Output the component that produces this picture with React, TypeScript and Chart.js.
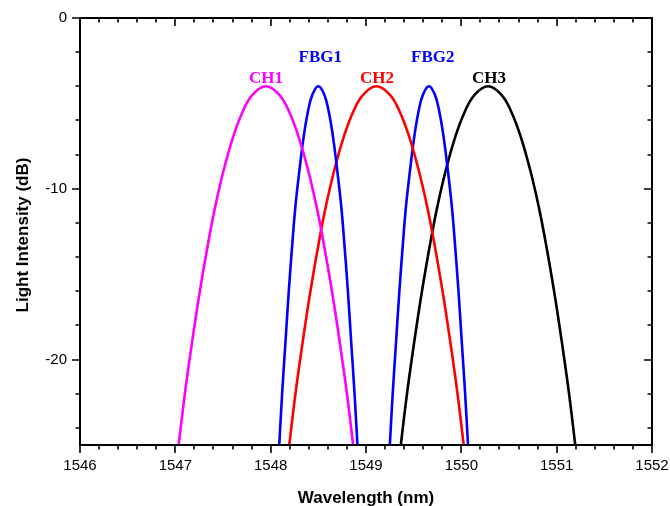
import React, { useEffect, useRef } from "react";
import { Chart, registerables } from "chart.js";
Chart.register(...registerables);

// ---- data ----
const dbLevels = [-25, -22, -19, -16, -13, -11, -9, -7, -5.5, -4.5, -4, -4.5, -5.5, -7, -9, -11, -13, -16, -19, -22, -25];

const ch1Wl = [1547.035, 1547.10, 1547.175, 1547.257, 1547.35, 1547.42, 1547.503, 1547.604, 1547.705, 1547.809, 1547.95, 1548.091, 1548.195, 1548.296, 1548.397, 1548.48, 1548.55, 1548.643, 1548.725, 1548.80, 1548.865];
const fbg1Wl = [1548.09, 1548.12, 1548.155, 1548.19, 1548.23, 1548.26, 1548.30, 1548.345, 1548.39, 1548.437, 1548.50, 1548.563, 1548.61, 1548.655, 1548.70, 1548.74, 1548.77, 1548.81, 1548.845, 1548.88, 1548.91];
const ch2Wl = [1548.195, 1548.26, 1548.335, 1548.417, 1548.51, 1548.58, 1548.663, 1548.764, 1548.865, 1548.969, 1549.11, 1549.251, 1549.355, 1549.456, 1549.557, 1549.64, 1549.71, 1549.803, 1549.885, 1549.96, 1550.025];
const fbg2Wl = [1549.25, 1549.28, 1549.315, 1549.35, 1549.39, 1549.42, 1549.46, 1549.505, 1549.55, 1549.597, 1549.66, 1549.723, 1549.77, 1549.815, 1549.86, 1549.90, 1549.93, 1549.97, 1550.005, 1550.04, 1550.07];
const ch3Wl = [1549.365, 1549.43, 1549.505, 1549.587, 1549.68, 1549.75, 1549.833, 1549.934, 1550.035, 1550.139, 1550.28, 1550.421, 1550.525, 1550.626, 1550.727, 1550.81, 1550.88, 1550.973, 1551.055, 1551.13, 1551.195];

const seriesNames = ["CH1", "FBG1", "CH2", "FBG2", "CH3"];
const seriesWl = [ch1Wl, fbg1Wl, ch2Wl, fbg2Wl, ch3Wl];
const seriesColors = ["#FF00FF", "#0000FF", "#FF0000", "#0000FF", "#000000"];

const labelX = [1547.95, 1548.52, 1549.115, 1549.70, 1550.29];
const labelY = [-3.81, -2.56, -3.81, -2.56, -3.81];

const xTickValues = [1546, 1547, 1548, 1549, 1550, 1551, 1552];
const yTickValues = [-20, -10, 0];
const xMin = 1546, xMax = 1552, xMinorStep = 0.2, xMajorStep = 1;
const yMin = -25, yMax = 0, yMinorStep = 2, yMajorStep = 10;

const xTitle = "Wavelength (nm)";
const yTitle = "Light Intensity (dB)";

const framePlugin = {
  id: "frameAndLabels",
  afterDatasetsDraw(chart: any) {
    const { ctx, chartArea: a, scales } = chart;
    const xs = scales.x, ys = scales.y;
    ctx.save();
    ctx.strokeStyle = "#000";
    ctx.lineCap = "butt";
    // ticks
    ctx.lineWidth = 1.6;
    const majLen = 8, minLen = 4.5;
    const nx = Math.round((xMax - xMin) / xMinorStep);
    for (let i = 0; i <= nx; i++) {
      const v = xMin + i * xMinorStep;
      const isMaj = Math.abs(v / xMajorStep - Math.round(v / xMajorStep)) < 1e-6;
      const len = isMaj ? majLen : minLen;
      const px = Math.round(xs.getPixelForValue(v));
      ctx.beginPath();
      ctx.moveTo(px, a.bottom);
      ctx.lineTo(px, a.bottom + len);
      ctx.moveTo(px, a.top);
      ctx.lineTo(px, a.top + len);
      ctx.stroke();
    }
    const ny = Math.round((yMax - yMin) / yMinorStep);
    for (let i = 0; i <= ny; i++) {
      const v = yMax - i * yMinorStep;
      if (v < yMin - 1e-6) break;
      const isMaj = Math.abs(v / yMajorStep - Math.round(v / yMajorStep)) < 1e-6;
      const len = isMaj ? majLen : minLen;
      const py = Math.round(ys.getPixelForValue(v));
      ctx.beginPath();
      ctx.moveTo(a.left - len, py);
      ctx.lineTo(a.left, py);
      ctx.moveTo(a.right - len, py);
      ctx.lineTo(a.right, py);
      ctx.stroke();
    }
    // frame
    ctx.lineWidth = 2;
    ctx.strokeRect(a.left, a.top, a.right - a.left, a.bottom - a.top);

    // curve labels
    ctx.font = "bold 17px 'Liberation Serif', 'Times New Roman', serif";
    ctx.textAlign = "center";
    ctx.textBaseline = "alphabetic";
    seriesNames.forEach((n, i) => {
      ctx.fillStyle = seriesColors[i];
      ctx.fillText(n, xs.getPixelForValue(labelX[i]), ys.getPixelForValue(labelY[i]));
    });

    // axis titles
    ctx.fillStyle = "#000";
    ctx.font = "bold 17px 'Liberation Sans', Arial, sans-serif";
    ctx.textAlign = "center";
    ctx.textBaseline = "alphabetic";
    ctx.fillText(xTitle, (a.left + a.right) / 2, 503);
    ctx.translate(28, 235);
    ctx.rotate(-Math.PI / 2);
    ctx.fillText(yTitle, 0, 0);
    ctx.restore();
  },
};

export default function App() {
  const ref = useRef<HTMLCanvasElement>(null);
  useEffect(() => {
    document.body.style.margin = "0";
    const canvas = ref.current!;
    const chart = new Chart(canvas, {
      type: "line",
      data: {
        datasets: seriesNames.map((n, i) => ({
          label: n,
          data: seriesWl[i].map((x, j) => ({ x, y: dbLevels[j] })),
          borderColor: seriesColors[i],
          backgroundColor: seriesColors[i],
          borderWidth: 2.6,
          pointRadius: 0,
          fill: false,
          tension: 0.4,
        })),
      },
      options: {
        responsive: false,
        animation: false,
        events: [],
        layout: { padding: { top: 18, right: 18, left: 0, bottom: 0 } },
        plugins: { legend: { display: false }, tooltip: { enabled: false }, title: { display: false } },
        scales: {
          x: {
            type: "linear",
            min: xMin,
            max: xMax,
            grid: { display: false, drawTicks: false },
            border: { display: false },
            afterBuildTicks: (s: any) => {
              s.ticks = xTickValues.map((v) => ({ value: v }));
            },
            afterFit: (s: any) => {
              s.height = 61;
              s.paddingLeft = 0;
              s.paddingRight = 0;
            },
            ticks: {
              padding: 12,
              color: "#000",
              maxRotation: 0,
              autoSkip: false,
              font: { family: "'Liberation Sans', Arial, sans-serif", size: 15 },
              callback: (v: any) => String(v),
            },
          },
          y: {
            type: "linear",
            min: yMin,
            max: yMax,
            grid: { display: false, drawTicks: false },
            border: { display: false },
            afterBuildTicks: (s: any) => {
              s.ticks = yTickValues.map((v) => ({ value: v }));
            },
            afterFit: (s: any) => {
              s.width = 80;
              s.paddingTop = 0;
              s.paddingBottom = 0;
            },
            ticks: {
              padding: 13,
              color: "#000",
              autoSkip: false,
              font: { family: "'Liberation Sans', Arial, sans-serif", size: 15 },
              callback: (v: any) => String(v),
            },
          },
        },
      },
      plugins: [framePlugin],
    });
    return () => chart.destroy();
  }, []);
  return <canvas ref={ref} width={670} height={506} style={{ display: "block" }} />;
}
